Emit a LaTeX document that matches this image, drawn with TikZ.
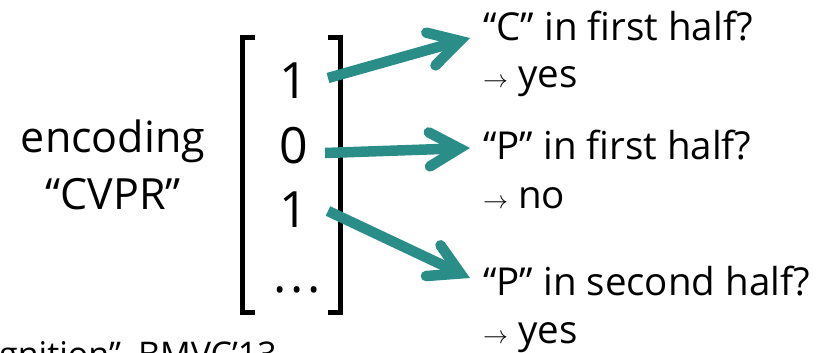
\documentclass[tikz,border=0pt]{standalone}
\usepackage{fontspec}
\setmainfont{Open Sans}
\usetikzlibrary{arrows.meta}
\definecolor{tealarrow}{HTML}{2B8D87}
\newcommand{\smallarr}{{\fontsize{28}{28}\selectfont$\rightarrow$}}
\begin{document}
\begin{tikzpicture}[x=1pt,y=-1pt,
  lbl/.style={inner sep=0pt, anchor=base, font=\fontsize{43}{43}\selectfont},
  digit/.style={inner sep=0pt, anchor=base, font=\fontsize{50}{50}\selectfont},
  qtext/.style={inner sep=0pt, anchor=base west, font=\fontsize{38.5}{38.5}\selectfont},
  brk/.style={line width=5pt, line join=miter, line cap=butt},
  conn/.style={tealarrow, line width=10.5pt, line cap=butt,
    -{Straight Barb[length=30pt,width=34pt,line cap=round,line join=miter]}},
  refnote/.style={inner sep=0pt, anchor=base east, font=\fontsize{34}{34}\selectfont}
]
\useasboundingbox (0,0) rectangle (817,353);
\clip (0,0) rectangle (817,353);

% left label
\node[lbl] (enc) at (113,152) {encoding};
\node[lbl] (cvpr) at (113,209) {“CVPR”};

% vector entries
\node[digit] (d1) at (294,99) {1};
\node[digit] (d2) at (294,163) {0};
\node[digit] (d3) at (294,227) {1};
\node[digit] (d4) at (297,292) {.\kern3.5pt.\kern3.5pt.};

% brackets
\draw[brk] (255,37.5) -- (242.5,37.5) -- (242.5,312.5) -- (255,312.5);
\draw[brk] (328,37.5) -- (340.5,37.5) -- (340.5,312.5) -- (328,312.5);

% questions and answers
\node[qtext] (q1) at (483,41) {“C” in first half?};
\node[qtext] (a1) at (483,88) {\smallarr\ yes};
\node[qtext] (q2) at (483,159) {“P” in first half?};
\node[qtext] (a2) at (483,208) {\smallarr\ no};
\node[qtext] (q3) at (483,295) {“P” in second half?};
\node[qtext] (a3) at (483,343) {\smallarr\ yes};

% connectors
\coordinate (s1) at (328,78);
\coordinate (t1) at (470,38);
\coordinate (s2) at (325,153);
\coordinate (t2) at (470,148);
\coordinate (s3) at (328,211);
\coordinate (t3) at (470,278);
\draw[conn] (s1) -- (t1);
\draw[conn] (s2) -- (t2);
\draw[conn] (s3) -- (t3);

\node[refnote] (ref) at (277,366) {gnition”, BMVC’13};
\end{tikzpicture}
\end{document}
